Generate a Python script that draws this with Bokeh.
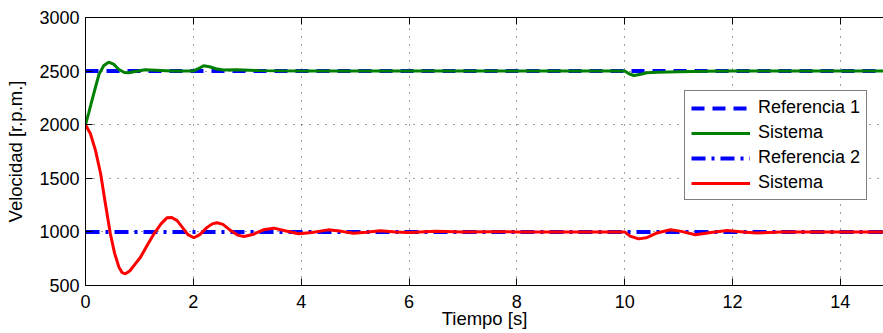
from bokeh.plotting import figure
from bokeh.models import Legend, LegendItem, LinearAxis, FixedTicker, Range1d
from bokeh.embed import file_html
from bokeh.resources import INLINE

# ---- data ----
x_ticks = [0, 2, 4, 6, 8, 10, 12, 14]
y_ticks = [500, 1000, 1500, 2000, 2500, 3000]

ref1_t = [0, 15]
ref1_v = [2500, 2500]
ref2_t = [0, 15]
ref2_v = [1000, 1000]

sys1_t = [0, 0.06, 0.12, 0.18, 0.25, 0.34, 0.43, 0.52, 0.62, 0.72, 0.8, 0.92, 1.1, 1.3,
          1.6, 2.0, 2.08, 2.19, 2.3, 2.42, 2.56, 2.8, 3.2, 4.0, 10.0, 10.08, 10.17,
          10.3, 10.41, 10.6, 11.0, 11.5, 12.0, 15.0]
sys1_v = [2000, 2110, 2226, 2340, 2470, 2552, 2583, 2565, 2515, 2487, 2484, 2497, 2512, 2508,
          2500, 2500, 2520, 2549, 2540, 2522, 2510, 2512, 2505, 2500, 2500, 2475, 2459,
          2470, 2484, 2490, 2495, 2498, 2500, 2500]

sys2_t = [0, 0.09, 0.185, 0.28, 0.37, 0.46, 0.54, 0.62, 0.68, 0.74, 0.82, 0.92, 1.02, 1.15,
          1.27, 1.4, 1.51, 1.6, 1.7, 1.8, 1.9, 2.01, 2.12, 2.25, 2.35, 2.44, 2.55, 2.7,
          2.82, 2.94, 3.1, 3.3, 3.49, 3.7, 3.95, 4.2, 4.5, 4.75, 4.97, 5.2, 5.47, 5.75,
          6.0, 6.5, 7.0, 7.5, 8.0, 10.0, 10.1, 10.26, 10.4, 10.6, 10.85, 11.05, 11.31,
          11.6, 11.9, 12.2, 12.45, 12.9, 15.0]
sys2_v = [2000, 1918, 1760, 1545, 1260, 985, 800, 671, 620, 609, 635, 700, 764, 880,
          982, 1075, 1131, 1135, 1105, 1040, 975, 945, 975, 1040, 1075, 1085, 1070, 1010,
          970, 957, 975, 1020, 1035, 1010, 982, 995, 1019, 1005, 988, 996, 1010, 1000,
          995, 1005, 998, 1002, 1000, 1000, 960, 935, 945, 990, 1020, 1005, 973,
          995, 1012, 1000, 990, 1000, 1000]

legend_labels = ["Referencia 1", "Sistema", "Referencia 2", "Sistema"]

FONT = "Liberation Sans"

p = figure(width=883, height=333, output_backend="svg", toolbar_location=None,
           x_range=Range1d(0, 14.8), y_range=Range1d(500, 3000),
           min_border_left=85, min_border_right=0, min_border_top=17, min_border_bottom=48,
           background_fill_color="white", border_fill_color="white")
p.outline_line_color = None

r1 = p.line(ref1_t, ref1_v, line_color="#0000ff", line_width=4, line_dash="13 8")
g1 = p.line(sys1_t, sys1_v, line_color="#008000", line_width=3)
r2 = p.line(ref2_t, ref2_v, line_color="#0000ff", line_width=4, line_dash="14 6 3 6")
g2 = p.line(sys2_t, sys2_v, line_color="#ff0000", line_width=3)

for ax, ticks in ((p.xaxis[0], x_ticks), (p.yaxis[0], y_ticks)):
    ax.ticker = FixedTicker(ticks=ticks)
    ax.major_label_text_font = FONT
    ax.major_label_text_font_size = "18px"
    ax.major_label_text_color = "black"
    ax.axis_label_text_font = FONT
    ax.axis_label_text_font_size = "18.5px"
    ax.axis_label_text_font_style = "normal"
    ax.axis_label_text_color = "black"
    ax.axis_line_color = "black"
    ax.major_tick_line_color = "black"
    ax.major_tick_in = 7
    ax.major_tick_out = 0
    ax.minor_tick_in = 0
    ax.minor_tick_out = 0

p.xaxis[0].major_label_standoff = 9
p.yaxis[0].major_label_standoff = 6
p.xaxis[0].axis_label = "Tiempo [s]"
p.xaxis[0].axis_label_standoff = -3
p.yaxis[0].axis_label = "Velocidad [r.p.m.]"
p.yaxis[0].axis_label_standoff = 10

top = LinearAxis(ticker=FixedTicker(ticks=x_ticks),
                 major_label_overrides={t: "" for t in x_ticks},
                 major_label_standoff=0, major_tick_in=7, major_tick_out=0,
                 minor_tick_in=0, minor_tick_out=0, axis_line_color="black",
                 major_tick_line_color="black")
p.add_layout(top, "above")

p.xgrid.ticker = FixedTicker(ticks=x_ticks)
p.ygrid.ticker = FixedTicker(ticks=y_ticks)
p.grid.grid_line_color = "black"
p.grid.grid_line_alpha = 0.75
p.grid.grid_line_dash = "1 7"
p.grid.grid_line_width = 1

legend = Legend(items=[LegendItem(label=legend_labels[0], renderers=[r1]),
                       LegendItem(label=legend_labels[1], renderers=[g1]),
                       LegendItem(label=legend_labels[2], renderers=[r2]),
                       LegendItem(label=legend_labels[3], renderers=[g2])],
                location=(599, 85), label_text_font=FONT, label_text_font_size="18px",
                label_text_color="black", glyph_width=59, glyph_height=20,
                label_height=20, label_standoff=8, spacing=4, padding=6,
                border_line_color="black", border_line_width=1,
                background_fill_color="white", background_fill_alpha=1)
p.add_layout(legend, "center")

open("out.html", "w").write(file_html(p, INLINE))
